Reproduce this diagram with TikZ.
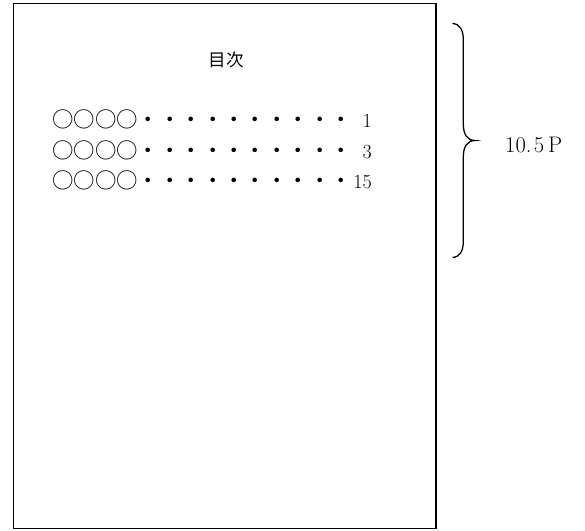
\documentclass[tikz,border=0pt]{standalone}
\usepackage{fontspec}
\newfontfamily\cjk{Noto Sans CJK JP}
\begin{document}
\begin{tikzpicture}[x=1pt,y=-1pt,
  page/.style={draw=black,line width=1.6pt},
  bracepath/.style={draw=black,line width=1.3pt},
  rowtext/.style={anchor=base west,inner sep=0pt,font=\cjk\fontsize{21.4}{24}\selectfont},
  pagenum/.style={anchor=base east,inner sep=0pt,font=\fontsize{20}{24}\selectfont},
  title/.style={inner sep=0pt,font=\cjk\fontsize{17.5}{20}\selectfont},
  sizelabel/.style={anchor=base west,inner sep=0pt,font=\fontsize{22.5}{26}\selectfont}]
\useasboundingbox (0,0) rectangle (585,530);
\draw[page] (13.5,3.5) rectangle (436,528.5);
\node[title] (t) at (226,60) {目次};
\node[rowtext] (r1) at (52,127.5) {○○○○・・・・・・・・・・};
\node[rowtext] (r2) at (52,158) {○○○○・・・・・・・・・・};
\node[rowtext] (r3) at (52,188.5) {○○○○・・・・・・・・・・};
\node[pagenum] (n1) at (372,127.5) {1};
\node[pagenum] (n2) at (372,158) {3};
\node[pagenum] (n3) at (372,188.5) {15};
\coordinate (bt) at (452.5,23.5);
\coordinate (bb) at (452.5,257.5);
\coordinate (bm) at (475,140.5);
\draw[bracepath] (bt) .. controls (460,24) and (463.3,30) .. (463.3,40)
  -- (463.3,124) .. controls (463.3,134) and (467,140.5) .. (bm)
  .. controls (467,140.5) and (463.3,147) .. (463.3,157)
  -- (463.3,241) .. controls (463.3,251) and (460,257) .. (bb);
\node[sizelabel] (lbl) at (505,152.7) {10.\hspace{2.5pt}5\,P};
\end{tikzpicture}
\end{document}
